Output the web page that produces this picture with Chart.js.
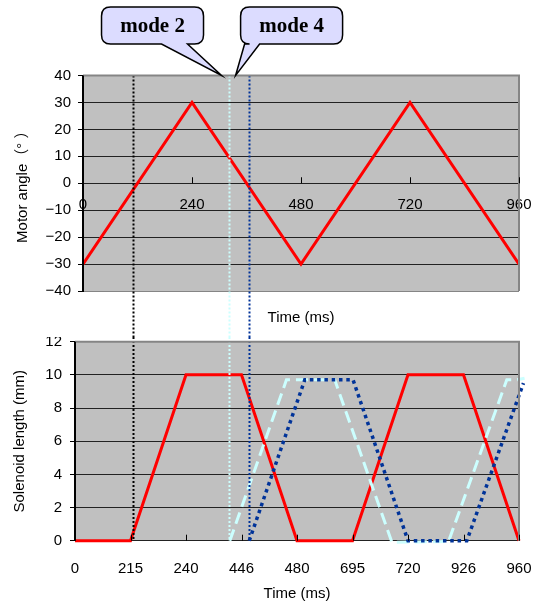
<!DOCTYPE html>
<html>
<head>
<meta charset="utf-8">
<script src="https://cdn.jsdelivr.net/npm/chart.js@4.4.0/dist/chart.umd.min.js"></script>
<style>
body { margin: 0; background: #fff; }
#wrap { position: relative; width: 538px; height: 603px; }
#angleChart { position: absolute; left: 0; top: 0; }
#solenoidChart { position: absolute; left: 0; top: 337px; }
</style>
</head>
<body>
<div id="wrap">
  <canvas id="angleChart" width="538" height="337"></canvas>
  <canvas id="solenoidChart" width="538" height="266"></canvas>
</div>
<script>
// motor angle (top chart)
const angleTimes = [0, 240, 480, 720, 960];
const angleValues = [-30, 30, -30, 30, -30];

// solenoid length (bottom chart), x given in tick-slot units
const timeLabels = ['0', '215', '240', '446', '480', '695', '720', '926', '960'];
const redX = [0, 1, 2, 3, 4, 5, 6, 7, 8];
const redY = [0, 0, 10, 10, 0, 0, 10, 10, 0];
const cyanX = [2.79, 3.81, 4.68, 5.71, 6.73, 7.78, 7.96, 8.1];
const cyanY = [0, 9.7, 9.7, -0.1, -0.05, 9.7, 9.7, 9.8];
const blueX = [3.14, 4.14, 5.01, 6.0, 7.06, 8.08];
const blueY = [0, 9.7, 9.7, 0, 0, 9.5];

// mode markers
const markerColors = ['#000000', '#ccffff', '#003399'];
const markerTimes = [110, 321, 365];     // top chart, ms
const markerSlots = [1.05, 2.78, 3.14];  // bottom chart, slot units
const modeLabels = ['mode 2', 'mode 4'];
const modeTipTimes = [305, 336];

const FONT = 'Liberation Sans, "Noto Sans CJK JP", sans-serif';
Chart.defaults.font.family = FONT;
Chart.defaults.font.size = 15;
Chart.defaults.color = '#000';

function zip(xs, ys) {
    return xs.map((x, i) => ({ x: x, y: ys[i] }));
}

function minus(v) {
    return v < 0 ? '\u2212' + Math.abs(v) : String(v);
}

function noSidePad(s) {
    s.paddingLeft = 0;
    s.paddingRight = 0;
}

const plotBg = {
    id: 'plotBg',
    beforeDraw(chart) {
        const a = chart.chartArea, ctx = chart.ctx;
        ctx.save();
        ctx.fillStyle = '#c0c0c0';
        ctx.fillRect(a.left, a.top, a.right - a.left, a.bottom - a.top);
        ctx.restore();
    },
    afterDraw(chart) {
        const a = chart.chartArea, ctx = chart.ctx;
        ctx.save();
        ctx.strokeStyle = '#858585';
        ctx.lineWidth = 2;
        ctx.beginPath();
        ctx.moveTo(a.left, a.top);
        ctx.lineTo(a.right, a.top);
        ctx.lineTo(a.right, a.bottom);
        ctx.stroke();
        ctx.strokeStyle = '#000';
        ctx.beginPath();
        ctx.moveTo(a.left, a.top);
        ctx.lineTo(a.left, a.bottom);
        ctx.stroke();
        // small upward tick marks on the time axis
        const xs = chart.scales.x, y0 = chart.scales.y.getPixelForValue(0);
        ctx.lineWidth = 1;
        xs.ticks.forEach(t => {
            const px = Math.round(xs.getPixelForValue(t.value)) + 0.5;
            ctx.beginPath();
            ctx.moveTo(px, y0);
            ctx.lineTo(px, y0 - 6);
            ctx.stroke();
        });
        ctx.restore();
    }
};

function markerPlugin(values, isTop) {
    return {
        id: 'markers',
        afterDatasetsDraw(chart) {
            const ctx = chart.ctx, a = chart.chartArea, xs = chart.scales.x;
            ctx.save();
            ctx.lineWidth = 2;
            ctx.setLineDash([2, 2]);
            values.forEach((v, i) => {
                const px = Math.round(xs.getPixelForValue(v)) + 0.5;
                ctx.strokeStyle = markerColors[i];
                ctx.beginPath();
                ctx.moveTo(px, isTop ? a.top : 0);
                ctx.lineTo(px, isTop ? chart.height : a.bottom);
                ctx.stroke();
            });
            ctx.restore();
        }
    };
}

// speech bubbles above the top chart
const calloutLayout = [
    { dx: -69, b1: 9, b2: 35 },
    { dx: 56, b1: -47, b2: -32 }
];
const callouts = {
    id: 'callouts',
    afterDraw(chart) {
        const ctx = chart.ctx, xs = chart.scales.x;
        const tipY = chart.chartArea.top;
        modeLabels.forEach((label, i) => {
            const tipX = xs.getPixelForValue(modeTipTimes[i]);
            const L = calloutLayout[i];
            const cx = tipX + L.dx, w = 102, h = 37, top = 7, r = 9;
            const left = cx - w / 2, right = cx + w / 2, bottom = top + h;
            ctx.save();
            ctx.beginPath();
            ctx.moveTo(left + r, top);
            ctx.lineTo(right - r, top);
            ctx.quadraticCurveTo(right, top, right, top + r);
            ctx.lineTo(right, bottom - r);
            ctx.quadraticCurveTo(right, bottom, right - r, bottom);
            ctx.lineTo(cx + L.b2, bottom);
            ctx.lineTo(tipX, tipY);
            ctx.lineTo(cx + L.b1, bottom);
            ctx.lineTo(left + r, bottom);
            ctx.quadraticCurveTo(left, bottom, left, bottom - r);
            ctx.lineTo(left, top + r);
            ctx.quadraticCurveTo(left, top, left + r, top);
            ctx.closePath();
            ctx.fillStyle = '#dcdcff';
            ctx.fill();
            ctx.strokeStyle = '#000';
            ctx.lineWidth = 1.5;
            ctx.stroke();
            ctx.fillStyle = '#000';
            ctx.font = 'bold 21px "Liberation Serif", serif';
            ctx.textAlign = 'center';
            ctx.textBaseline = 'middle';
            ctx.fillText(label, cx, top + h / 2 + 1);
            ctx.restore();
        });
    }
};

// outer edges of the plot are grey, inner grid lines dark
const topGrid = ctx => (ctx.tick && (ctx.tick.value === ctx.scale.max || ctx.tick.value === ctx.scale.min)) ? '#858585' : '#222';
const bottomGrid = ctx => (ctx.tick && ctx.tick.value === ctx.scale.max) ? '#858585' : '#222';

new Chart(document.getElementById('angleChart'), {
    type: 'line',
    data: {
        datasets: [{
            data: zip(angleTimes, angleValues),
            borderColor: '#ff0000',
            borderWidth: 3,
            pointRadius: 0,
            tension: 0
        }]
    },
    options: {
        responsive: false,
        animation: false,
        layout: { padding: { top: 75.5, right: 19, left: 0, bottom: 0 } },
        plugins: { legend: { display: false }, tooltip: { enabled: false } },
        scales: {
            x: {
                type: 'linear', min: 0, max: 960,
                position: { y: 0 },
                grid: { display: false },
                border: { display: false },
                ticks: { stepSize: 240, padding: 5, maxRotation: 0, autoSkip: false },
                afterFit: noSidePad
            },
            x2: {
                type: 'linear', min: 0, max: 960, position: 'bottom',
                grid: { display: false },
                border: { display: false },
                ticks: { display: false },
                title: { display: true, text: 'Time (ms)', font: { size: 15 }, padding: { top: 0, bottom: 10 } },
                afterFit(s) { s.height = 46; noSidePad(s); }
            },
            y: {
                min: -40, max: 40,
                grid: { color: topGrid, tickColor: '#000', tickLength: 5 },
                border: { display: true, color: '#000', width: 2 },
                ticks: { stepSize: 10, padding: 7, callback: v => minus(v) },
                title: { display: true, text: 'Motor angle\uff08\u00b0 \uff09', font: { size: 15 }, padding: { top: 13.5, bottom: 0 } },
                afterFit(s) { s.width = 83; }
            }
        }
    },
    plugins: [plotBg, markerPlugin(markerTimes, true), callouts]
});

new Chart(document.getElementById('solenoidChart'), {
    type: 'line',
    data: {
        datasets: [{
            data: zip(blueX, blueY),
            borderColor: '#003399',
            borderWidth: 3.5,
            borderDash: [3.5, 3.8],
            pointRadius: 0,
            tension: 0,
            clip: 10
        }, {
            data: zip(cyanX, cyanY),
            borderColor: '#ccffff',
            borderWidth: 3,
            borderDash: [12, 6],
            pointRadius: 0,
            tension: 0,
            clip: 10
        }, {
            data: zip(redX, redY),
            borderColor: '#ff0000',
            borderWidth: 3,
            pointRadius: 0,
            tension: 0,
            clip: 10
        }]
    },
    options: {
        responsive: false,
        animation: false,
        layout: { padding: { top: 4.7, right: 19, left: 0, bottom: 0 } },
        plugins: { legend: { display: false }, tooltip: { enabled: false } },
        scales: {
            x: {
                type: 'linear', min: 0, max: 8,
                grid: { display: false },
                border: { display: false },
                ticks: { stepSize: 1, padding: 11, maxRotation: 0, autoSkip: false, callback: v => timeLabels[v] },
                title: { display: true, text: 'Time (ms)', font: { size: 15 }, padding: { top: 15, bottom: 0 } },
                afterFit(s) { s.height = 62.3; noSidePad(s); }
            },
            y: {
                min: 0, max: 12,
                grid: { color: bottomGrid, tickColor: '#000', tickLength: 5 },
                border: { display: true, color: '#000', width: 2 },
                ticks: { stepSize: 2, padding: 8 },
                title: { display: true, text: 'Solenoid length (mm)', font: { size: 15 }, padding: { top: 10.5, bottom: 0 } },
                afterFit(s) { s.width = 75; s.paddingTop = 0; s.paddingBottom = 0; }
            }
        }
    },
    plugins: [plotBg, markerPlugin(markerSlots, false)]
});
</script>
</body>
</html>
